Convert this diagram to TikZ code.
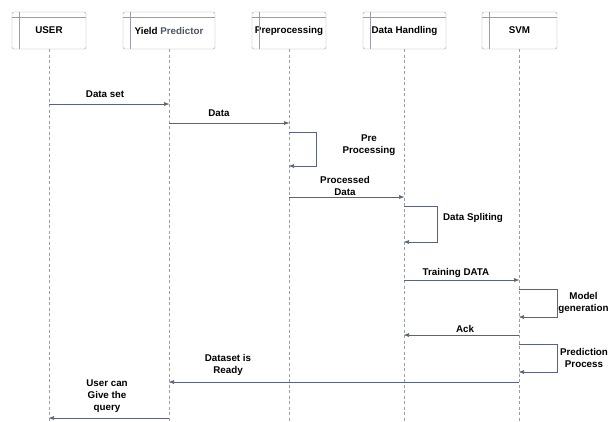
\documentclass[tikz,border=0pt]{standalone}
\usepackage{fontspec}
\setmainfont{Liberation Sans}
\usetikzlibrary{arrows.meta,positioning,calc}
\definecolor{boxgray}{HTML}{9A9EA6}
\definecolor{msggray}{HTML}{5B6472}
\definecolor{predgray}{HTML}{4A5566}

\tikzset{
  actor/.style={rectangle, draw=boxgray, rounded corners=2pt, minimum height=37pt, inner sep=0pt},
  lifeline/.style={draw=boxgray, dash pattern=on 3pt off 2.5pt, line width=0.5pt},
  msg/.style={draw=msggray, line width=0.6pt, -{Triangle[length=5pt,width=3.6pt]}},
  lbl/.style={align=center, inner sep=0pt}
}

\begin{document}
\begin{tikzpicture}[x=1pt, y=-1pt, every node/.style={font=\bfseries\fontsize{9.8}{12.2}\selectfont}]
      \useasboundingbox (0,0) rectangle (609,421);

      % ACTORS
      \foreach \n/\x/\w/\t in {user/49/74/USER, yield/169/92/{Yield \textcolor{predgray}{Predictor}}, prep/289/74/Preprocessing, handle/404.5/83/Data Handling, svm/519.5/75/SVM} {
        \node[actor, minimum width=\w pt] (\n) at (\x,30.5) {\t};
        \draw[boxgray, line width=0.5pt] ($(\n.north west)+(7,0)$) -- ($(\n.south west)+(7,0)$);
        \draw[boxgray, line width=0.5pt] ($(\n.north west)+(0,5)$) -- ($(\n.north east)+(0,5)$);
        \coordinate (\n-end) at (\x,421);
        \draw[lifeline] (\n.south) -- (\n-end);
      }

      % POINTS ON LIFELINES
      \coordinate (u1) at (49,104);   \coordinate (y1) at (169,104);
      \coordinate (y2) at (169,123);  \coordinate (p2) at (289,123);
      \coordinate (p3) at (289,132);  \coordinate (p4) at (289,166);
      \coordinate (p5) at (289,197);  \coordinate (h5) at (404,197);
      \coordinate (h6) at (404,206);  \coordinate (h7) at (404,242);
      \coordinate (h8) at (404,280);  \coordinate (s8) at (519,280);
      \coordinate (s9) at (519,289);  \coordinate (s10) at (519,317);
      \coordinate (s11) at (519,335); \coordinate (h11) at (404,335);
      \coordinate (s12) at (519,344); \coordinate (s13) at (519,372);
      \coordinate (s14) at (519,382); \coordinate (y14) at (169,382);
      \coordinate (y15) at (169,418); \coordinate (u15) at (49,418);

      % MESSAGES
      \draw[msg] (u1) -- (y1);
      \node[lbl] (dataset) at (105,94) {Data set};
      \draw[msg] (y2) -- (p2);
      \node[lbl] (data) at (219,113) {Data};
      \draw[msg] (p3) -- ++(27,0) |- (p4);
      \node[lbl] (preproc) at (369,145) {Pre\\Processing};
      \draw[msg] (p5) -- (h5);
      \node[lbl] (processed) at (345,186) {Processed\\Data};
      \draw[msg] (h6) -- ++(33,0) |- (h7);
      \node[lbl] (split) at (473,218) {Data Spliting};
      \draw[msg] (h8) -- (s8);
      \node[lbl] (training) at (456,273) {Training DATA};
      \draw[msg] (s9) -- ++(38,0) |- (s10);
      \node[lbl] (model) at (583.5,303) {Model\\generation};
      \draw[msg] (s11) -- (h11);
      \node[lbl] (ack) at (465,329) {Ack};
      \draw[msg] (s12) -- ++(38,0) |- (s13);
      \node[lbl] (predict) at (584,358) {Prediction\\Process};
      \draw[msg] (s14) -- (y14);
      \node[lbl] (ready) at (228,365) {Dataset is\\Ready};
      \draw[msg] (y15) -- (u15);
      \node[lbl] (query) at (107,396) {User can\\Give the\\query};
\end{tikzpicture}
\end{document}
